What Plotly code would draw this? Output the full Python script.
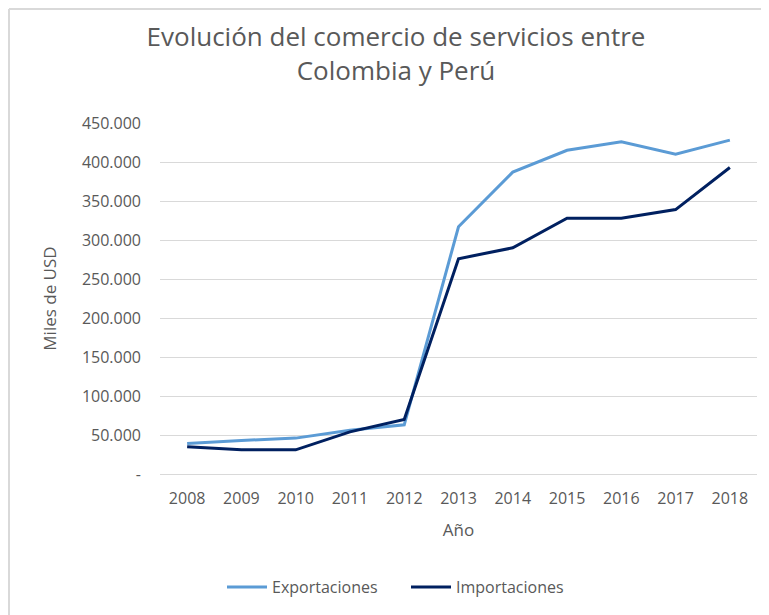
import plotly.graph_objects as go

years = ["2008", "2009", "2010", "2011", "2012", "2013", "2014", "2015", "2016", "2017", "2018"]
exportaciones = [39000, 43000, 46000, 56000, 63000, 317000, 387000, 415000, 426000, 410000, 428000]
importaciones = [35000, 31000, 31000, 54000, 70000, 276000, 290000, 328000, 328000, 339000, 393000]
y_tickvals = [0, 50000, 100000, 150000, 200000, 250000, 300000, 350000, 400000, 450000]
y_ticktext = ["-", "50.000", "100.000", "150.000", "200.000", "250.000", "300.000", "350.000", "400.000", "450.000"]

# page body has an 8px margin; work in figure pixels
OFF = 8
W, H = 769 - OFF, 615 - OFF
L, T = 160 - OFF, 123 - OFF
R = W - (757 - OFF)
B = H - (474 - OFF)
pw, ph = W - L - R, H - T - B

def fx(x):  # figure pixel -> paper x
    return (x - L) / pw

def fy(y):  # figure pixel -> paper y
    return (H - B - y) / ph

font_family = "Open Sans, Noto Sans, sans-serif"
grey = "#595959"

fig = go.Figure()
fig.add_trace(go.Scatter(x=years, y=exportaciones, mode="lines", name="Exportaciones",
                         line=dict(color="#5B9BD5", width=3)))
fig.add_trace(go.Scatter(x=years, y=importaciones, mode="lines", name="Importaciones",
                         line=dict(color="#002060", width=3)))

fig.update_layout(
    width=W, height=H,
    margin=dict(l=L, r=R, t=T, b=B, autoexpand=False),
    paper_bgcolor="white", plot_bgcolor="white",
    font=dict(family=font_family, color=grey, size=16),
    title=dict(text="Evolución del comercio de servicios entre<br>Colombia y Perú",
               x=(396 - OFF) / W, xref="container", xanchor="center",
               y=1 - (46 - OFF) / H, yanchor="top", yref="container",
               font=dict(size=26, color=grey, family=font_family)),
    xaxis=dict(type="category", range=[-0.5, 10.5], showgrid=False, showline=False, ticks="",
               automargin=False, ticklabelstandoff=13, tickfont=dict(size=16, color=grey),
               title=dict(text="Año", font=dict(size=17, color=grey), standoff=16)),
    yaxis=dict(range=[0, 450000], tickvals=y_tickvals, ticktext=y_ticktext,
               showgrid=True, gridcolor="#d9d9d9", gridwidth=1, zeroline=True,
               zerolinecolor="#d9d9d9", zerolinewidth=1, showline=False, ticks="",
               automargin=False, ticklabelstandoff=18,
               tickfont=dict(size=16, color=grey),
               title=dict(text="Miles de USD", font=dict(size=17, color=grey), standoff=20)),
    legend=dict(orientation="h", x=(222 - OFF) / W, xref="container", xanchor="left",
                y=(H - (587 - OFF)) / H, yref="container", yanchor="middle",
                font=dict(size=16, color=grey), itemwidth=40, entrywidth=129,
                bgcolor="rgba(0,0,0,0)"),
    shapes=[
        dict(type="line", xref="paper", yref="paper", x0=fx(1), x1=fx(W + 20), y0=fy(1), y1=fy(1),
             line=dict(color="#d9d9d9", width=2)),
        dict(type="line", xref="paper", yref="paper", x0=fx(1), x1=fx(1), y0=fy(1), y1=fy(H + 20),
             line=dict(color="#d9d9d9", width=2)),
    ],
)

fig.write_html("out.html")
